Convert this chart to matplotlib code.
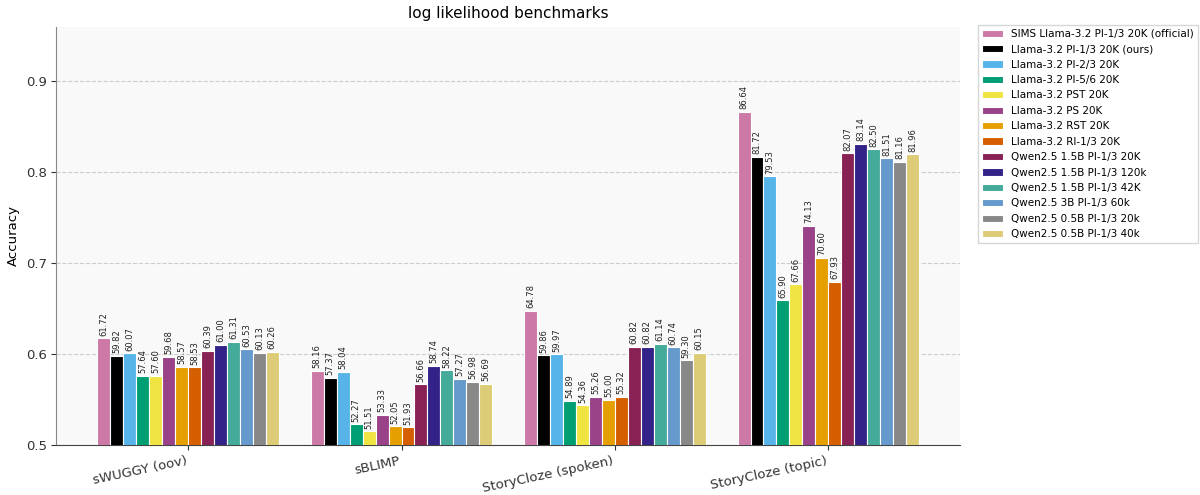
import matplotlib
matplotlib.use("Agg")
import matplotlib.pyplot as plt
import numpy as np

benchmarks = ["sWUGGY (oov)", "sBLIMP", "StoryCloze (spoken)", "StoryCloze (topic)"]

models = [
    "SIMS Llama-3.2 PI-1/3 20K (official)",
    "Llama-3.2 PI-1/3 20K (ours)",
    "Llama-3.2 PI-2/3 20K",
    "Llama-3.2 PI-5/6 20K",
    "Llama-3.2 PST 20K",
    "Llama-3.2 PS 20K",
    "Llama-3.2 RST 20K",
    "Llama-3.2 RI-1/3 20K",
    "Qwen2.5 1.5B PI-1/3 20K",
    "Qwen2.5 1.5B PI-1/3 120k",
    "Qwen2.5 1.5B PI-1/3 42K",
    "Qwen2.5 3B PI-1/3 60k",
    "Qwen2.5 0.5B PI-1/3 20k",
    "Qwen2.5 0.5B PI-1/3 40k",
]

colors = ["#CC79A7", "#000000", "#56B4E9", "#009E73", "#F0E442", "#994288",
          "#E69F00", "#D55E00", "#882255", "#332288", "#44AA99", "#6699CC",
          "#888888", "#DDCC77"]

# accuracy in percent, one list per benchmark (model order as above)
swuggy = [61.72, 59.82, 60.07, 57.64, 57.60, 59.68, 58.57, 58.53, 60.39, 61.00, 61.31, 60.53, 60.13, 60.26]
sblimp = [58.16, 57.37, 58.04, 52.27, 51.51, 53.33, 52.05, 51.93, 56.66, 58.74, 58.22, 57.27, 56.98, 56.69]
sc_spoken = [64.78, 59.86, 59.97, 54.89, 54.36, 55.26, 55.00, 55.32, 60.82, 60.82, 61.14, 60.74, 59.30, 60.15]
sc_topic = [86.64, 81.72, 79.53, 65.90, 67.66, 74.13, 70.60, 67.93, 82.07, 83.14, 82.50, 81.51, 81.16, 81.96]

scores = np.array([swuggy, sblimp, sc_spoken, sc_topic]) / 100.0

fig = plt.figure(figsize=(12, 4.95), dpi=100)
ax = fig.add_axes([0.047, 0.101, 0.753, 0.845])
ax.set_facecolor("#f9f9f9")

x = np.arange(len(benchmarks))
n = len(models)
width = 0.85 / n

for i, (name, col) in enumerate(zip(models, colors)):
    pos = x - 0.425 + width * (i + 0.5)
    bars = ax.bar(pos, scores[:, i], width, color=col, edgecolor="white",
                  linewidth=0.8, label=name, zorder=3)
    for b, v in zip(bars, scores[:, i]):
        ax.text(b.get_x() + b.get_width() / 2, v + 0.003, f"{v * 100:.2f}",
                rotation=90, ha="center", va="bottom", fontsize=6, color="#222222")

ax.set_ylim(0.5, 0.96)
ax.set_yticks([0.5, 0.6, 0.7, 0.8, 0.9])
ax.set_yticklabels(["0.5", "0.6", "0.7", "0.8", "0.9"])
ax.set_xticks(x)
ax.set_xticklabels(benchmarks, rotation=12, ha="right")
ax.tick_params(colors="#333333", labelsize=9.5)
ax.set_ylabel("Accuracy", fontsize=9.5)
ax.set_title("log likelihood benchmarks", fontsize=11)
ax.grid(axis="y", linestyle="--", color="#cccccc", linewidth=0.8, zorder=0)
ax.spines["top"].set_visible(False)
ax.spines["right"].set_visible(False)
ax.spines["left"].set_color("#888888")
ax.spines["bottom"].set_color("#444444")

ax.legend(loc="upper left", bbox_to_anchor=(1.02, 1.005), fontsize=7.5,
          frameon=True, fancybox=False, edgecolor="#cccccc", borderaxespad=0.0,
          labelspacing=0.52)

fig.savefig("out.png", dpi=100)
